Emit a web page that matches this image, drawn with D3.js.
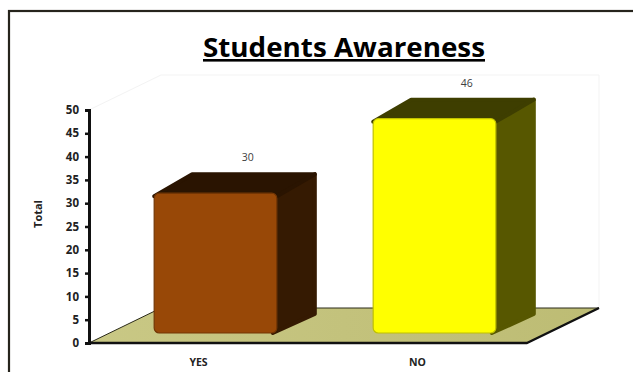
<!DOCTYPE html>
<html><head><meta charset="utf-8">
<script src="https://cdn.jsdelivr.net/npm/d3@7"></script>
<style>body{margin:0;background:#fff}svg{display:block}</style>
</head><body>
<svg id="c" width="633" height="372"></svg>
<script>
const categories = ["YES", "NO"];
const values = [30, 46];
const yTicks = [0,5,10,15,20,25,30,35,40,45,50];
const frontColors = ["#984807", "#ffff00"];
const sideColors = ["#351a02", "#575700"];
const topColors = ["#2a1401", "#3e3e00"];
const title = "Students Awareness";
const yLabel = "Total";

const svg = d3.select("#c");
const W = 633, H = 372;
const plotL = 89, plotR = 527, plotB = 343, plotT = 110;
const floorD = {dx: 72, dy: -35};
const barOff = {dx: 17, dy: -10};
const barD = {dx: 38, dy: -19};

const x = d3.scaleBand().domain(categories).range([plotL, plotR]).padding(0);
const y = d3.scaleLinear().domain([0, 50]).range([plotB, plotT]);
const barW = x.bandwidth() * 0.56;

const defs = svg.append("defs");
const fg = defs.append("linearGradient").attr("id","floorG").attr("x1","0").attr("y1","0").attr("x2","1").attr("y2","0");
fg.append("stop").attr("offset","0").attr("stop-color","#c9c885");
fg.append("stop").attr("offset","0.5").attr("stop-color","#c3c27c");
fg.append("stop").attr("offset","1").attr("stop-color","#bdbc74");

// frame
svg.append("rect").attr("x",9).attr("y",11).attr("width",W).attr("height",H)
  .attr("fill","none").attr("stroke","#26241c").attr("stroke-width",2.2);

// back wall (faint)
svg.append("path")
  .attr("d", `M${plotL},${y(50)} L${plotL+floorD.dx},${y(50)+floorD.dy} L${plotR+floorD.dx},${y(50)+floorD.dy} L${plotR+floorD.dx},${plotB+floorD.dy}`)
  .attr("fill","none").attr("stroke","#f3f3f3").attr("stroke-width",1);

// floor
svg.append("path")
  .attr("d", `M${plotL},${plotB} L${plotL+floorD.dx},${plotB+floorD.dy} L${plotR+floorD.dx},${plotB+floorD.dy} L${plotR},${plotB} Z`)
  .attr("fill","url(#floorG)").attr("stroke","#2a2a1a").attr("stroke-width",1);
svg.append("path")
  .attr("d", `M${plotL},${plotB} L${plotR},${plotB} L${plotR+floorD.dx},${plotB+floorD.dy}`)
  .attr("fill","none").attr("stroke","#111").attr("stroke-width",2.5).attr("stroke-linejoin","round");

// bars
const bars = svg.append("g");
categories.forEach((c, i) => {
  const x0 = x(c) + (x.bandwidth() - barW) / 2 + barOff.dx;
  const x1 = x0 + barW;
  const yb = y(0) + barOff.dy;
  const yt = y(values[i]) + barOff.dy;
  const g = bars.append("g");
  g.append("path")
    .attr("d", `M${x1-4},${yt} L${x1+barD.dx},${yt+barD.dy} L${x1+barD.dx},${yb+barD.dy} L${x1-4},${yb} Z`)
    .attr("fill", sideColors[i]).attr("stroke", sideColors[i]).attr("stroke-width",4).attr("stroke-linejoin","round");
  g.append("path")
    .attr("d", `M${x0},${yt+3} L${x0+barD.dx},${yt+barD.dy} L${x1+barD.dx},${yt+barD.dy} L${x1},${yt+3} Z`)
    .attr("fill", topColors[i]).attr("stroke", topColors[i]).attr("stroke-width",4).attr("stroke-linejoin","round");
  g.append("rect").attr("x", x0).attr("y", yt).attr("width", barW).attr("height", yb - yt)
    .attr("rx", 5).attr("fill", frontColors[i])
    .attr("stroke", d3.color(frontColors[i]).darker(0.8)).attr("stroke-width",1.2);
  svg.append("text").attr("x", x0 + barW/2 + barD.dx*0.85).attr("y", yt + barD.dy - 13)
    .attr("text-anchor","middle").attr("font-family","Open Sans, sans-serif")
    .attr("font-size",10.5).attr("fill","#404040").text(values[i]);
});

// y axis
const yAxis = d3.axisLeft(y).tickValues(yTicks).tickSize(4).tickPadding(6);
const ga = svg.append("g").attr("transform", `translate(${plotL},0)`).call(yAxis);
ga.select(".domain").attr("stroke","#111").attr("stroke-width",3);
ga.selectAll(".tick line").attr("stroke","#111").attr("stroke-width",2.5);
ga.selectAll(".tick text").attr("font-family","Open Sans, sans-serif").attr("font-weight","bold")
  .attr("font-size",11.5).attr("fill","#222");

// x labels
categories.forEach(c => {
  svg.append("text").attr("x", x(c) + x.bandwidth()/2).attr("y", 366)
    .attr("text-anchor","middle").attr("font-family","Open Sans, sans-serif")
    .attr("font-weight","bold").attr("font-size",10.5).attr("fill","#222").text(c);
});

// y label
svg.append("text").attr("transform","translate(42,214) rotate(-90)")
  .attr("text-anchor","middle").attr("font-family","Open Sans, sans-serif")
  .attr("font-weight","bold").attr("font-size",11).attr("fill","#222").text(yLabel);

// title
svg.append("text").attr("x", 344).attr("y", 57).attr("text-anchor","middle")
  .attr("font-family","Open Sans, sans-serif").attr("font-weight","bold")
  .attr("font-size",26).attr("fill","#000").attr("text-decoration","underline")
  .attr("textLength", 282).attr("lengthAdjust","spacingAndGlyphs").text(title);
</script>
</body></html>
